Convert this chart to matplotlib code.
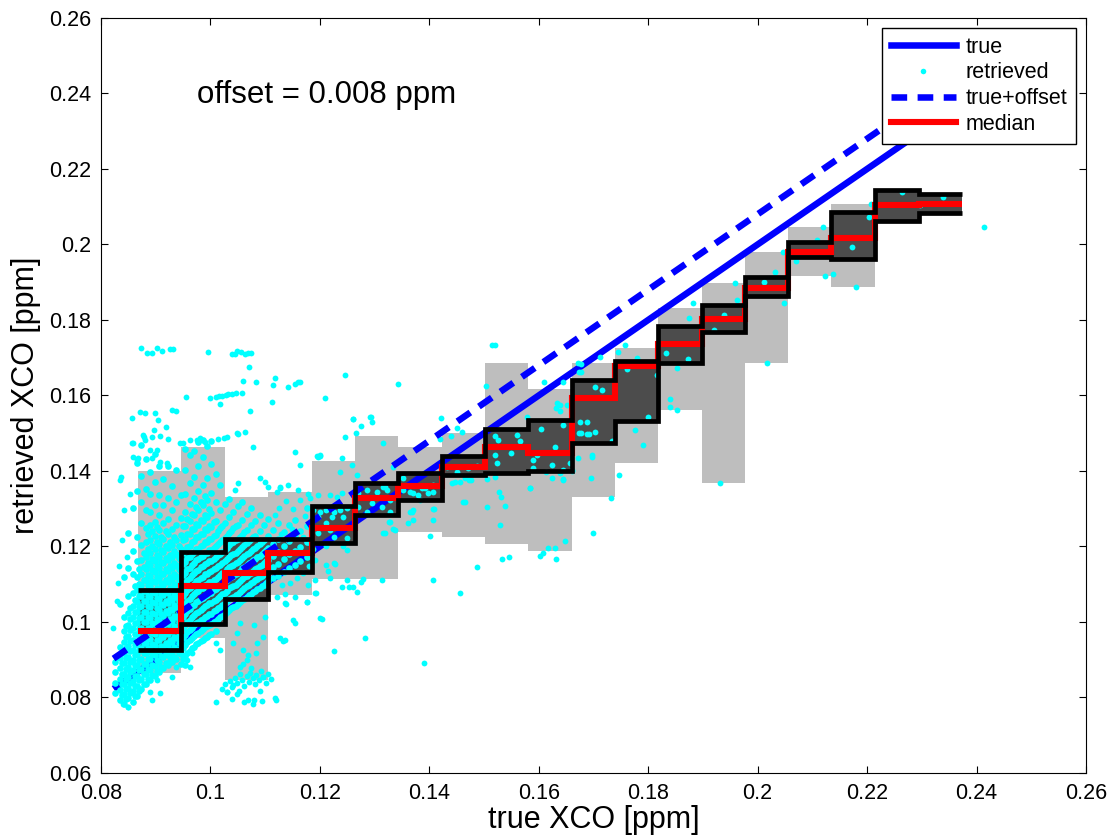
import numpy as np
import matplotlib
matplotlib.use('Agg')
import matplotlib.pyplot as plt
from matplotlib.lines import Line2D
from matplotlib.ticker import FuncFormatter

plt.rcParams['font.family'] = ['Liberation Sans', 'DejaVu Sans']

#=========================================================================
#DATA
#=========================================================================
bin_edges = [0.0868, 0.0947, 0.1027, 0.1106, 0.1185, 0.1264, 0.1343, 0.1423, 0.1502, 0.1581,
             0.1660, 0.1739, 0.1818, 0.1898, 0.1977, 0.2056, 0.2135, 0.2214, 0.2294, 0.2373]
# light grey boxes (outer range)
gray_lo = [0.0864, 0.0957, 0.0845, 0.1072, 0.1114, 0.1114, 0.1239, 0.1224, 0.1206, 0.1189,
           0.1332, 0.1422, 0.1562, 0.1367, 0.1687, 0.1917, 0.1888, 0.2062, 0.2084]
gray_hi = [0.1401, 0.1463, 0.1331, 0.1344, 0.1426, 0.1492, 0.1464, 0.1500, 0.1687, 0.1616,
           0.1685, 0.1727, 0.1831, 0.1897, 0.1981, 0.2046, 0.2107, 0.2143, 0.2134]
# quartiles and median per bin
q25 = [0.0926, 0.0995, 0.1060, 0.1133, 0.1210, 0.1283, 0.1323, 0.1389, 0.1395, 0.1401,
       0.1475, 0.1533, 0.1685, 0.1769, 0.1863, 0.1966, 0.1961, 0.2062, 0.2084]
median = [0.0976, 0.1096, 0.1129, 0.1182, 0.1249, 0.1328, 0.1361, 0.1411, 0.1464, 0.1447,
          0.1594, 0.1679, 0.1736, 0.1803, 0.1884, 0.1981, 0.2016, 0.2105, 0.2107]
q75 = [0.1085, 0.1185, 0.1220, 0.1220, 0.1308, 0.1369, 0.1394, 0.1440, 0.1512, 0.1535,
       0.1640, 0.1691, 0.1784, 0.1840, 0.1914, 0.2007, 0.2087, 0.2143, 0.2134]

true_range = [0.0823, 0.2414]
offset = 0.008

# dense cloud of retrieved points, by column: (true, [retrieved...])
blob_cols = [
    (0.0826, [0.0812, 0.0838, 0.0867, 0.0893]),
    (0.0834, [0.0793, 0.0821, 0.0849, 0.0878, 0.0905, 0.0934, 0.1047]),
    (0.0842, [0.0784, 0.0808, 0.0836, 0.0862, 0.0891, 0.0917, 0.0946, 0.0975, 0.1012, 0.1119]),
    (0.0850, [0.0798, 0.0826, 0.0853, 0.0881, 0.0908, 0.0937, 0.0963, 0.0992, 0.1024, 0.1068, 0.1143, 0.1236]),
    (0.0858, [0.0789, 0.0817, 0.0844, 0.0872, 0.0899, 0.0927, 0.0953, 0.0983, 0.1012, 0.1041, 0.1078, 0.1127, 0.1187, 0.1302]),
    (0.0866, [0.0803, 0.0831, 0.0858, 0.0886, 0.0914, 0.0941, 0.0968, 0.0996, 0.1026, 0.1054, 0.1085, 0.1118, 0.1162, 0.1225, 0.1348, 0.1421]),
    (0.0874, [0.0822, 0.0849, 0.0876, 0.0903, 0.0931, 0.0958, 0.0985, 0.1013, 0.1041, 0.1069, 0.1097, 0.1128, 0.1164, 0.1204, 0.1263, 0.1318, 0.1387, 0.1468]),
    (0.0882, [0.0836, 0.0862, 0.0889, 0.0917, 0.0944, 0.0971, 0.0999, 0.1027, 0.1055, 0.1083, 0.1111, 0.1139, 0.1172, 0.1211, 0.1249, 0.1297, 0.1352, 0.1432]),
    (0.0890, [0.0846, 0.0874, 0.0901, 0.0929, 0.0956, 0.0984, 0.1011, 0.1039, 0.1066, 0.1094, 0.1122, 0.1151, 0.1183, 0.1218, 0.1257, 0.1291, 0.1339, 0.1398]),
    (0.0898, [0.0857, 0.0884, 0.0912, 0.0939, 0.0967, 0.0994, 0.1022, 0.1049, 0.1077, 0.1105, 0.1133, 0.1162, 0.1194, 0.1229, 0.1266, 0.1311, 0.1372, 0.1446]),
    (0.0906, [0.0868, 0.0895, 0.0923, 0.0951, 0.0978, 0.1006, 0.1033, 0.1061, 0.1088, 0.1116, 0.1144, 0.1173, 0.1207, 0.1243, 0.1284, 0.1336, 0.1412]),
    (0.0914, [0.0879, 0.0906, 0.0934, 0.0961, 0.0989, 0.1017, 0.1044, 0.1072, 0.1099, 0.1127, 0.1155, 0.1186, 0.1221, 0.1262, 0.1309, 0.1378]),
    (0.0922, [0.0885, 0.0912, 0.0940, 0.0967, 0.0995, 0.1023, 0.1051, 0.1078, 0.1106, 0.1134, 0.1163, 0.1195, 0.1232, 0.1274, 0.1328, 0.1413]),
    (0.0930, [0.0893, 0.0921, 0.0948, 0.0976, 0.1003, 0.1031, 0.1058, 0.1086, 0.1114, 0.1142, 0.1171, 0.1204, 0.1246, 0.1297, 0.1361]),
    (0.0938, [0.0902, 0.0929, 0.0957, 0.0985, 0.1012, 0.1040, 0.1067, 0.1095, 0.1123, 0.1151, 0.1181, 0.1216, 0.1258, 0.1318, 0.1402]),
    (0.0946, [0.0888, 0.0914, 0.0941, 0.0968, 0.0996, 0.1024, 0.1051, 0.1079, 0.1106, 0.1134, 0.1163, 0.1194, 0.1231, 0.1276, 0.1337]),
    (0.0954, [0.0886, 0.0911, 0.0938, 0.0965, 0.0993, 0.1021, 0.1048, 0.1076, 0.1103, 0.1131, 0.1159, 0.1188, 0.1219, 0.1253, 0.1291, 0.1338, 0.1402, 0.1458]),
    (0.0962, [0.0923, 0.0951, 0.0978, 0.1006, 0.1034, 0.1061, 0.1089, 0.1116, 0.1144, 0.1172, 0.1201, 0.1233, 0.1268, 0.1312, 0.1367, 0.1441]),
    (0.0970, [0.0935, 0.0963, 0.0991, 0.1018, 0.1046, 0.1073, 0.1101, 0.1129, 0.1157, 0.1185, 0.1214, 0.1246, 0.1284, 0.1329, 0.1384, 0.1452]),
    (0.0978, [0.0944, 0.0972, 0.0999, 0.1027, 0.1055, 0.1082, 0.1110, 0.1138, 0.1166, 0.1194, 0.1224, 0.1257, 0.1296, 0.1347, 0.1413, 0.1476]),
    (0.0986, [0.0953, 0.0981, 0.1008, 0.1036, 0.1063, 0.1091, 0.1119, 0.1147, 0.1175, 0.1203, 0.1233, 0.1267, 0.1309, 0.1363, 0.1438, 0.1481]),
    (0.0994, [0.0961, 0.0989, 0.1017, 0.1044, 0.1072, 0.1100, 0.1128, 0.1156, 0.1184, 0.1213, 0.1244, 0.1279, 0.1322, 0.1381, 0.1466]),
    (0.1002, [0.0968, 0.0995, 0.1022, 0.1050, 0.1078, 0.1106, 0.1134, 0.1162, 0.1190, 0.1219, 0.1251, 0.1289, 0.1341, 0.1418, 0.1479]),
    (0.1010, [0.0975, 0.1003, 0.1031, 0.1059, 0.1087, 0.1115, 0.1143, 0.1171, 0.1200, 0.1231, 0.1268, 0.1318, 0.1392]),
    (0.1018, [0.1012, 0.1040, 0.1068, 0.1096, 0.1124, 0.1152, 0.1181, 0.1212, 0.1249, 0.1297, 0.1364]),
    (0.1026, [0.1021, 0.1049, 0.1077, 0.1105, 0.1133, 0.1161, 0.1190, 0.1222, 0.1261, 0.1313]),
    (0.1034, [0.1033, 0.1061, 0.1089, 0.1117, 0.1145, 0.1173, 0.1203, 0.1237, 0.1279, 0.1326]),
    (0.1042, [0.1039, 0.1067, 0.1095, 0.1123, 0.1151, 0.1180, 0.1211, 0.1248, 0.1292]),
    (0.1050, [0.1047, 0.1075, 0.1103, 0.1131, 0.1159, 0.1188, 0.1220, 0.1258, 0.1306]),
    (0.1058, [0.1058, 0.1086, 0.1114, 0.1142, 0.1170, 0.1199, 0.1231, 0.1271, 0.1318]),
    (0.1066, [0.1066, 0.1094, 0.1122, 0.1150, 0.1179, 0.1209, 0.1243, 0.1287]),
    (0.1074, [0.1075, 0.1103, 0.1131, 0.1159, 0.1188, 0.1219, 0.1256, 0.1302]),
    (0.1082, [0.1083, 0.1111, 0.1139, 0.1167, 0.1197, 0.1229, 0.1268]),
    (0.1090, [0.1091, 0.1119, 0.1147, 0.1176, 0.1206, 0.1241, 0.1283]),
    (0.1098, [0.1099, 0.1127, 0.1156, 0.1186, 0.1218, 0.1256]),
    (0.1106, [0.1108, 0.1136, 0.1165, 0.1195, 0.1229, 0.1272]),
    (0.1114, [0.1116, 0.1145, 0.1175, 0.1207, 0.1243]),
    (0.1124, [0.1121, 0.1153, 0.1186, 0.1219, 0.1262]),
    (0.1134, [0.1133, 0.1168, 0.1201, 0.1238]),
    (0.1144, [0.1142, 0.1179, 0.1214, 0.1256]),
    (0.1154, [0.1151, 0.1189, 0.1227, 0.1271]),
    (0.1164, [0.1162, 0.1199, 0.1241]),
    (0.1176, [0.1173, 0.1211, 0.1254, 0.1302]),
    # second, staggered pass through the core
    (0.0838, [0.0807, 0.0835, 0.0863, 0.0890, 0.0920]),
    (0.0846, [0.0796, 0.0822, 0.0849, 0.0876, 0.0904, 0.0931, 0.0960, 0.0990]),
    (0.0854, [0.0812, 0.0839, 0.0867, 0.0894, 0.0922, 0.0950, 0.0978, 0.1007, 0.1038]),
    (0.0862, [0.0803, 0.0830, 0.0858, 0.0885, 0.0913, 0.0940, 0.0968, 0.0997, 0.1026, 0.1058, 0.1094]),
    (0.0870, [0.0817, 0.0845, 0.0872, 0.0900, 0.0927, 0.0955, 0.0982, 0.1011, 0.1040, 0.1069, 0.1101, 0.1139]),
    (0.0878, [0.0835, 0.0862, 0.0889, 0.0917, 0.0944, 0.0972, 0.0999, 0.1027, 0.1055, 0.1083, 0.1112, 0.1145, 0.1183]),
    (0.0886, [0.0849, 0.0876, 0.0903, 0.0930, 0.0958, 0.0985, 0.1013, 0.1041, 0.1069, 0.1097, 0.1125, 0.1156, 0.1192, 0.1232]),
    (0.0894, [0.0860, 0.0887, 0.0915, 0.0942, 0.0970, 0.0997, 0.1025, 0.1052, 0.1080, 0.1108, 0.1137, 0.1167, 0.1201, 0.1240]),
    (0.0902, [0.0871, 0.0898, 0.0926, 0.0953, 0.0981, 0.1008, 0.1036, 0.1063, 0.1091, 0.1119, 0.1148, 0.1178, 0.1212, 0.1252]),
    (0.0910, [0.0882, 0.0909, 0.0937, 0.0964, 0.0992, 0.1020, 0.1047, 0.1075, 0.1102, 0.1130, 0.1159, 0.1190, 0.1226]),
    (0.0918, [0.0890, 0.0917, 0.0945, 0.0972, 0.1000, 0.1028, 0.1055, 0.1083, 0.1111, 0.1139, 0.1169, 0.1201, 0.1240]),
    (0.0926, [0.0897, 0.0925, 0.0952, 0.0980, 0.1007, 0.1035, 0.1063, 0.1091, 0.1118, 0.1147, 0.1177, 0.1212]),
    (0.0934, [0.0906, 0.0934, 0.0961, 0.0989, 0.1016, 0.1044, 0.1072, 0.1100, 0.1128, 0.1157, 0.1188, 0.1224]),
    (0.0942, [0.0917, 0.0944, 0.0972, 0.0999, 0.1027, 0.1055, 0.1083, 0.1111, 0.1139, 0.1169, 0.1202]),
    (0.0950, [0.0902, 0.0930, 0.0957, 0.0985, 0.1012, 0.1040, 0.1068, 0.1096, 0.1124, 0.1153, 0.1183, 0.1216, 0.1254]),
    (0.0958, [0.0918, 0.0946, 0.0973, 0.1001, 0.1028, 0.1056, 0.1084, 0.1112, 0.1140, 0.1169, 0.1199, 0.1232, 0.1272]),
    (0.0966, [0.0931, 0.0958, 0.0985, 0.1013, 0.1041, 0.1068, 0.1096, 0.1124, 0.1152, 0.1181, 0.1211, 0.1245, 0.1287]),
    (0.0974, [0.0941, 0.0969, 0.0996, 0.1024, 0.1052, 0.1080, 0.1108, 0.1136, 0.1164, 0.1193, 0.1224, 0.1260, 0.1305]),
    (0.0982, [0.0949, 0.0977, 0.1005, 0.1033, 0.1061, 0.1089, 0.1117, 0.1145, 0.1173, 0.1202, 0.1233, 0.1270, 0.1318]),
    (0.0990, [0.0958, 0.0986, 0.1014, 0.1042, 0.1070, 0.1098, 0.1126, 0.1154, 0.1183, 0.1212, 0.1245, 0.1284, 0.1335]),
    (0.0998, [0.0965, 0.0993, 0.1021, 0.1049, 0.1077, 0.1105, 0.1133, 0.1161, 0.1190, 0.1220, 0.1254, 0.1298]),
    (0.1006, [0.1000, 0.1028, 0.1056, 0.1084, 0.1112, 0.1140, 0.1168, 0.1197, 0.1228, 0.1265]),
    (0.1014, [0.1008, 0.1036, 0.1064, 0.1092, 0.1120, 0.1148, 0.1177, 0.1207, 0.1241]),
    (0.1022, [0.1017, 0.1045, 0.1073, 0.1101, 0.1129, 0.1157, 0.1186, 0.1217, 0.1254]),
    (0.1030, [0.1027, 0.1055, 0.1083, 0.1111, 0.1139, 0.1167, 0.1197, 0.1229]),
    (0.1038, [0.1036, 0.1064, 0.1092, 0.1120, 0.1148, 0.1177, 0.1208, 0.1242]),
    (0.1046, [0.1043, 0.1071, 0.1099, 0.1127, 0.1155, 0.1184, 0.1216, 0.1254]),
    (0.1054, [0.1052, 0.1080, 0.1108, 0.1136, 0.1165, 0.1194, 0.1226]),
    (0.1062, [0.1062, 0.1090, 0.1118, 0.1146, 0.1175, 0.1205, 0.1238]),
    (0.1070, [0.1071, 0.1099, 0.1127, 0.1155, 0.1184, 0.1215]),
    (0.1078, [0.1079, 0.1107, 0.1135, 0.1163, 0.1192, 0.1224]),
    (0.1086, [0.1087, 0.1115, 0.1143, 0.1172, 0.1202]),
    (0.1094, [0.1095, 0.1123, 0.1152, 0.1181, 0.1212]),
    (0.1102, [0.1104, 0.1132, 0.1161, 0.1191]),
]

# scattered retrieved points (true, retrieved)
sparse_pts = [
    # outlier rows top left
    (0.0874, 0.1725), (0.0884, 0.1713), (0.0893, 0.1713), (0.0902, 0.1725), (0.0911, 0.1718),
    (0.0926, 0.1723), (0.0932, 0.1723), (0.0996, 0.1716), (0.1039, 0.1710), (0.1045, 0.1710),
    (0.1049, 0.1719), (0.1056, 0.1715), (0.1063, 0.1710), (0.1069, 0.1712), (0.1075, 0.1712),
    (0.1071, 0.1675), (0.1060, 0.1638), (0.1083, 0.1637), (0.1118, 0.1647), (0.1115, 0.1628),
    (0.0955, 0.1597), (0.0999, 0.1593), (0.1010, 0.1597), (0.1016, 0.1598), (0.1022, 0.1599),
    (0.1028, 0.1601), (0.1033, 0.1603), (0.1040, 0.1605), (0.1047, 0.1606), (0.1057, 0.1607),
    (0.1017, 0.1577), (0.1072, 0.1559), (0.1112, 0.1582), (0.0856, 0.1541), (0.0871, 0.1557),
    (0.0880, 0.1553), (0.0899, 0.1553), (0.0905, 0.1535), (0.0929, 0.1562), (0.0938, 0.1559),
    (0.0897, 0.1509), (0.0918, 0.1516), (0.0879, 0.1489), (0.0893, 0.1491), (0.0907, 0.1493),
    (0.0923, 0.1484), (0.0859, 0.1475), (0.0950, 0.1475), (0.0975, 0.1482), (0.0990, 0.1478),
    (0.1013, 0.1484), (0.1025, 0.1487), (0.1051, 0.1497), (0.1063, 0.1504), (0.1141, 0.1623),
    (0.1155, 0.1630), (0.1161, 0.1635), (0.1246, 0.1653), (0.1343, 0.1630), (0.1209, 0.1593),
    (0.1261, 0.1538), (0.1293, 0.1544), (0.1164, 0.1637),
    # upper edge of the cloud
    (0.0944, 0.1473), (0.0963, 0.1482), (0.0981, 0.1487), (0.1030, 0.1491), (0.1048, 0.1500),
    (0.1078, 0.1464), (0.0856, 0.1473), (0.0859, 0.1438), (0.0865, 0.1429), (0.0868, 0.1434),
    (0.0890, 0.1456), (0.0902, 0.1456), (0.0893, 0.1434), (0.0908, 0.1425), (0.0920, 0.1420),
    (0.0835, 0.1376), (0.0877, 0.1495), (0.0880, 0.1482), (0.1155, 0.1451), (0.1164, 0.1416),
    (0.1197, 0.1438), (0.1200, 0.1440), (0.1127, 0.1354), (0.1045, 0.1350), (0.0836, 0.1384),
    (0.0843, 0.1297), (0.0839, 0.1218), (0.0847, 0.1172), (0.0831, 0.1103), (0.0853, 0.1339),
    (0.0829, 0.1055), (0.0822, 0.0985), (0.0833, 0.1148),
    # bins 4-6 and the lower middle
    (0.1237, 0.1398), (0.1267, 0.1389), (0.1051, 0.1367), (0.1091, 0.1381), (0.1100, 0.1372),
    (0.1106, 0.1358), (0.1128, 0.1357), (0.1584, 0.1354), (0.1528, 0.1344), (0.1465, 0.1319),
    (0.1505, 0.1304), (0.1538, 0.1307), (0.1409, 0.1299), (0.1407, 0.1270), (0.1530, 0.1257),
    (0.1362, 0.1261), (0.1319, 0.1235), (0.1334, 0.1246), (0.1401, 0.1228), (0.1648, 0.1215),
    (0.1608, 0.1184), (0.1617, 0.1195), (0.1630, 0.1195), (0.1602, 0.1175), (0.1632, 0.1166),
    (0.1532, 0.1166), (0.1546, 0.1171), (0.1487, 0.1146), (0.1406, 0.1111), (0.1456, 0.1078),
    (0.1313, 0.1111), (0.1279, 0.1114), (0.1275, 0.1107), (0.1267, 0.1080), (0.1249, 0.1111),
    (0.1240, 0.1092), (0.1254, 0.1092), (0.1260, 0.1092), (0.1228, 0.1154), (0.1215, 0.1135),
    (0.1193, 0.1078), (0.1177, 0.1054), (0.1155, 0.0997), (0.1204, 0.1007), (0.1282, 0.0957),
    (0.1226, 0.0924), (0.1390, 0.0891), (0.1127, 0.0957), (0.1133, 0.0950), (0.1138, 0.1048),
    (0.1121, 0.1065), (0.1178, 0.1097), (0.1192, 0.1111), (0.1212, 0.1151), (0.1218, 0.1117),
    (0.1136, 0.1073), (0.1100, 0.1014), (0.1080, 0.0992), (0.1097, 0.0961), (0.1085, 0.0944),
    (0.1069, 0.0913), (0.1059, 0.0888), (0.1048, 0.0970), (0.1054, 0.0997), (0.1042, 0.0944),
    (0.1060, 0.0926), (0.1084, 0.0917), (0.1066, 0.0899), (0.1054, 0.0882), (0.1075, 0.0877),
    (0.1097, 0.0855), (0.1136, 0.0952), (0.1176, 0.1054), (0.1136, 0.1049), (0.1151, 0.1005),
    (0.1200, 0.1010), (0.1155, 0.1067), (0.1191, 0.1076),
    # low cluster under bin 3
    (0.1021, 0.0822), (0.1027, 0.0836), (0.1031, 0.0815), (0.1036, 0.0843), (0.1040, 0.0827),
    (0.1045, 0.0852), (0.1048, 0.0838), (0.1052, 0.0818), (0.1055, 0.0861), (0.1058, 0.0846),
    (0.1062, 0.0830), (0.1066, 0.0857), (0.1070, 0.0841), (0.1073, 0.0866), (0.1077, 0.0852),
    (0.1081, 0.0835), (0.1084, 0.0860), (0.1088, 0.0846), (0.1092, 0.0869), (0.1097, 0.0853),
    (0.1101, 0.0838), (0.1105, 0.0861), (0.1110, 0.0848), (0.1040, 0.0795), (0.1062, 0.0788),
    (0.1079, 0.0792), (0.1095, 0.0790), (0.1118, 0.0799), (0.1048, 0.0809), (0.1090, 0.0817),
    (0.1120, 0.0793), (0.1069, 0.0793), (0.1078, 0.0784), (0.1011, 0.0789), (0.1030, 0.0815),
    (0.1042, 0.0833),
    # below the cloud, bins 1-2
    (0.0966, 0.0917), (0.0957, 0.0899), (0.0963, 0.0882), (0.1011, 0.0944), (0.1017, 0.0926),
    (0.0902, 0.0846), (0.0890, 0.0815), (0.0849, 0.0774), (0.0841, 0.0783), (0.0850, 0.0776),
    (0.0893, 0.0793), (0.0908, 0.0811), (0.0929, 0.0855), (0.0938, 0.0882), (0.0926, 0.0904),
    # bin 4 extras
    (0.1118, 0.1283), (0.1126, 0.1302), (0.1131, 0.1098), (0.1139, 0.1321), (0.1146, 0.1104),
    (0.1151, 0.1298), (0.1158, 0.1117), (0.1163, 0.1322), (0.1169, 0.1131), (0.1172, 0.1281),
    (0.1181, 0.1149), (0.1185, 0.1238), (0.1122, 0.1343), (0.1141, 0.1362), (0.1160, 0.1349),
    (0.1178, 0.1338), (0.1187, 0.1192), (0.1129, 0.1232), (0.1149, 0.1247), (0.1170, 0.1224),
    # bins 5-6
    (0.1188, 0.1297), (0.1200, 0.1292), (0.1212, 0.1297), (0.1225, 0.1292), (0.1237, 0.1297),
    (0.1249, 0.1301), (0.1197, 0.1279), (0.1222, 0.1279), (0.1243, 0.1279), (0.1197, 0.1235),
    (0.1225, 0.1226), (0.1249, 0.1222), (0.1212, 0.1261), (0.1182, 0.1328), (0.1197, 0.1336),
    (0.1218, 0.1336), (0.1231, 0.1332), (0.1240, 0.1341), (0.1270, 0.1341), (0.1286, 0.1350),
    (0.1304, 0.1345), (0.1322, 0.1350), (0.1295, 0.1314), (0.1313, 0.1305), (0.1328, 0.1323),
    (0.1286, 0.1292), (0.1328, 0.1292), (0.1352, 0.1350), (0.1371, 0.1341), (0.1386, 0.1354),
    (0.1407, 0.1363), (0.1398, 0.1341), (0.1270, 0.1305), (0.1316, 0.1358), (0.1218, 0.1244),
    (0.1182, 0.1208), (0.1212, 0.1200), (0.1243, 0.1200), (0.1261, 0.1252), (0.1225, 0.1155),
    (0.1249, 0.1191), (0.1191, 0.1164),
    (0.1261, 0.1537), (0.1292, 0.1544), (0.1295, 0.1531), (0.1275, 0.1520), (0.1266, 0.1500),
    (0.1246, 0.1489), (0.1194, 0.1440), (0.1200, 0.1441), (0.1240, 0.1434), (0.1258, 0.1416),
    # bins 7-11
    (0.1514, 0.1734), (0.1520, 0.1734), (0.1421, 0.1541), (0.1451, 0.1513), (0.1459, 0.1504),
    (0.1420, 0.1484), (0.1440, 0.1493), (0.1504, 0.1625), (0.1610, 0.1635), (0.1644, 0.1635),
    (0.1677, 0.1683), (0.1674, 0.1663), (0.1633, 0.1579), (0.1639, 0.1559), (0.1631, 0.1566),
    (0.1578, 0.1544), (0.1605, 0.1510), (0.1630, 0.1464), (0.1521, 0.1493), (0.1526, 0.1482),
    (0.1560, 0.1495), (0.1566, 0.1480), (0.1520, 0.1442), (0.1549, 0.1447), (0.1523, 0.1420),
    (0.1596, 0.1442), (0.1589, 0.1429), (0.1675, 0.1531), (0.1688, 0.1531), (0.1673, 0.1500),
    (0.1688, 0.1497), (0.1672, 0.1434), (0.1697, 0.1438), (0.1590, 0.1407), (0.1624, 0.1416),
    (0.1613, 0.1397), (0.1639, 0.1395), (0.1625, 0.1381), (0.1644, 0.1378), (0.1660, 0.1400),
    (0.1696, 0.1382), (0.1584, 0.1356), (0.1700, 0.1235), (0.1327, 0.1266), (0.1368, 0.1292),
    (0.1531, 0.1332), (0.1447, 0.1372), (0.1465, 0.1381), (0.1473, 0.1376), (0.1505, 0.1378),
    (0.1520, 0.1383), (0.1352, 0.1381), (0.1365, 0.1345), (0.1380, 0.1336), (0.1392, 0.1354),
    (0.1407, 0.1345), (0.1383, 0.1323), (0.1371, 0.1297), (0.1407, 0.1299), (0.1432, 0.1411),
    (0.1450, 0.1398), (0.1471, 0.1407), (0.1487, 0.1413), (0.1456, 0.1372), (0.1477, 0.1376),
    (0.1441, 0.1367), (0.1462, 0.1319), (0.1319, 0.1358), (0.1334, 0.1411), (0.1316, 0.1473),
    (0.1328, 0.1266), (0.1337, 0.1244), (0.1316, 0.1235), (0.1365, 0.1292), (0.1371, 0.1270),
    # bins 11-17
    (0.2047, 0.1981), (0.2032, 0.1928), (0.1959, 0.1897), (0.2012, 0.1901), (0.2048, 0.1846),
    (0.1962, 0.1853), (0.1882, 0.1844), (0.1939, 0.1813), (0.1920, 0.1774), (0.1875, 0.1805),
    (0.1833, 0.1713), (0.1873, 0.1696), (0.1852, 0.1672), (0.1758, 0.1734), (0.1745, 0.1716),
    (0.1712, 0.1701), (0.1672, 0.1685), (0.1678, 0.1663), (0.1761, 0.1669), (0.1816, 0.1654),
    (0.1703, 0.1622), (0.1715, 0.1615), (0.1639, 0.1575), (0.1651, 0.1575), (0.1678, 0.1501),
    (0.1691, 0.1498), (0.1703, 0.1504), (0.1733, 0.1480), (0.1776, 0.1509), (0.1800, 0.1544),
    (0.1840, 0.1591), (0.1840, 0.1570), (0.1853, 0.1562), (0.1790, 0.1470), (0.1697, 0.1442),
    (0.1657, 0.1420), (0.1645, 0.1403), (0.1660, 0.1403), (0.1645, 0.1376), (0.1747, 0.1389),
    (0.1732, 0.1328), (0.1931, 0.1367), (0.2018, 0.1687), (0.1780, 0.1699), (0.1644, 0.1522),
    # top bins
    (0.2208, 0.2106), (0.2203, 0.2072), (0.2120, 0.2047), (0.2108, 0.2012), (0.2173, 0.1994),
    (0.2071, 0.1957), (0.2123, 0.1917), (0.2138, 0.1921), (0.2179, 0.1888), (0.2414, 0.2046),
    (0.2263, 0.2138), (0.2339, 0.2127), (0.2297, 0.2105),
]

blob_x = [c[0] for c in blob_cols for v in c[1]]
blob_y = [v for c in blob_cols for v in c[1]]
sparse_x = [p[0] for p in sparse_pts]
sparse_y = [p[1] for p in sparse_pts]

#=========================================================================
#PLOT
#=========================================================================
fig = plt.figure(figsize=(11.13, 8.4), dpi=100)
ax = fig.add_axes([0.0907, 0.0798, 0.885, 0.8988])

edges = np.array(bin_edges)
widths = np.diff(edges)
lo, hi = np.array(gray_lo), np.array(gray_hi)
p25, p75 = np.array(q25), np.array(q75)

ax.bar(edges[:-1], hi - lo, width=widths, bottom=lo, align='edge',
       color='#bebebe', linewidth=0, zorder=1)
ax.bar(edges[:-1], p75 - p25, width=widths, bottom=p25, align='edge',
       color='#4c4c4c', linewidth=0, zorder=1.5)

tr = np.array(true_range)
# solid 'true' line sits under the points, dashed one above
ax.plot(tr, tr, color='#0000ff', lw=4.7, solid_capstyle='butt', zorder=2)
ax.plot(blob_x, blob_y, 'o', color='#00ffff', ms=4.8, mew=0, zorder=2.5)
ax.plot(sparse_x, sparse_y, 'o', color='#00ffff', ms=4.2, mew=0, zorder=2.5)
ax.plot(tr, tr + offset, color='#0000ff', lw=4.7, dashes=(2.4, 1.6),
        dash_capstyle='butt', zorder=3)

ax.stairs(median, edges, baseline=None, color='#ff0000', lw=4.4, zorder=4)
ax.stairs(q25, edges, baseline=None, color='k', lw=3.4, zorder=5)
ax.stairs(q75, edges, baseline=None, color='k', lw=3.4, zorder=5)

ax.text(0.0975, 0.2396, 'offset = 0.008 ppm', fontsize=22.5, va='center')

#Formatting
ax.set_xlim(0.08, 0.26)
ax.set_ylim(0.06, 0.26)
ax.set_xticks(np.arange(0.08, 0.2601, 0.02))
ax.set_yticks(np.arange(0.06, 0.2601, 0.02))
fmt = FuncFormatter(lambda v, pos: '%g' % round(v, 4))
ax.xaxis.set_major_formatter(fmt)
ax.yaxis.set_major_formatter(fmt)
ax.tick_params(direction='in', top=True, right=True, length=5, width=0.8,
               labelsize=15.5, pad=7)
for s in ax.spines.values():
    s.set_linewidth(0.8)

ax.set_xlabel('true XCO [ppm]', fontsize=22, labelpad=1)
ax.set_ylabel('retrieved XCO [ppm]', fontsize=22, labelpad=6)

handles = [Line2D([], [], color='#0000ff', lw=4.7),
           Line2D([], [], color='#00ffff', marker='o', ms=4.0, mew=0, ls='none'),
           Line2D([], [], color='#0000ff', lw=4.7, dashes=(2.4, 1.6), dash_capstyle='butt'),
           Line2D([], [], color='#ff0000', lw=4.4)]
leg = ax.legend(handles, ['true', 'retrieved', 'true+offset', 'median'],
                loc='upper right', fontsize=15.5, handlelength=3.0, handletextpad=0.45,
                labelspacing=0.22, borderpad=0.42, borderaxespad=0.45,
                fancybox=False, framealpha=1, edgecolor='k', numpoints=1)
leg.get_frame().set_linewidth(1.0)

plt.savefig('out.png', dpi=100)
